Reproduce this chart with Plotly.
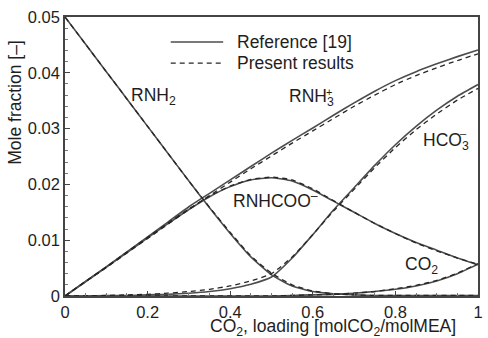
import plotly.graph_objects as go

# ---------------- data ----------------
loading = [0, 0.05, 0.1, 0.15, 0.2, 0.25, 0.3, 0.35, 0.4, 0.45, 0.5,
           0.55, 0.6, 0.65, 0.7, 0.75, 0.8, 0.85, 0.9, 0.95, 1.0]

# Reference [19] (solid)
ref_rnh2 = [0.0500, 0.0451, 0.0402, 0.0353, 0.0304, 0.0255, 0.0206, 0.0158, 0.0112, 0.0070, 0.0038,
            0.0018, 0.0008, 0.0004, 0.0002, 0.0001, 0.0001, 0.0001, 0.0001, 0.0001, 0.0001]
ref_rnh3 = [0.0, 0.0026, 0.0052, 0.0079, 0.0106, 0.0133, 0.0160, 0.0184, 0.0208, 0.0232, 0.0256,
            0.0279, 0.0301, 0.0324, 0.0346, 0.0367, 0.0386, 0.0402, 0.0416, 0.0429, 0.0441]
ref_carb = [0.0, 0.0026, 0.0052, 0.0078, 0.0104, 0.0130, 0.0155, 0.0178, 0.0196, 0.0208, 0.0212,
            0.0206, 0.0190, 0.0170, 0.0150, 0.0130, 0.0112, 0.0096, 0.0082, 0.0068, 0.0056]
ref_hco3 = [0.0, 0.0, 0.0001, 0.0001, 0.0002, 0.0003, 0.0005, 0.0008, 0.0013, 0.0021, 0.0034,
            0.0068, 0.0110, 0.0154, 0.0194, 0.0234, 0.0271, 0.0304, 0.0333, 0.0358, 0.0379]
ref_co2 = [0.0, 0.0, 0.0, 0.0, 0.0, 0.0, 0.0, 0.0, 0.0, 0.0, 0.0,
           0.0001, 0.0002, 0.0003, 0.0005, 0.0008, 0.0012, 0.0018, 0.0027, 0.0040, 0.0057]

# Present results (dashed)
pre_rnh2 = [0.0500, 0.0451, 0.0402, 0.0353, 0.0304, 0.0255, 0.0206, 0.0159, 0.0114, 0.0072, 0.0041,
            0.0020, 0.0009, 0.0004, 0.0002, 0.0001, 0.0001, 0.0001, 0.0001, 0.0001, 0.0001]
pre_rnh3 = [0.0, 0.0026, 0.0051, 0.0077, 0.0103, 0.0129, 0.0155, 0.0180, 0.0204, 0.0228, 0.0251,
            0.0274, 0.0296, 0.0318, 0.0340, 0.0360, 0.0379, 0.0395, 0.0409, 0.0422, 0.0434]
pre_carb = [0.0, 0.0026, 0.0052, 0.0079, 0.0105, 0.0131, 0.0156, 0.0179, 0.0197, 0.0209, 0.0213,
            0.0208, 0.0192, 0.0171, 0.0150, 0.0130, 0.0112, 0.0095, 0.0081, 0.0068, 0.0057]
pre_hco3 = [0.0, 0.0, 0.0001, 0.0002, 0.0003, 0.0005, 0.0008, 0.0012, 0.0018, 0.0027, 0.0040,
            0.0070, 0.0110, 0.0152, 0.0191, 0.0230, 0.0266, 0.0298, 0.0326, 0.0351, 0.0372]
pre_co2 = [0.0, 0.0, 0.0, 0.0, 0.0, 0.0, 0.0, 0.0, 0.0, 0.0, 0.0,
           0.0001, 0.0002, 0.0003, 0.0005, 0.0008, 0.0013, 0.0019, 0.0028, 0.0041, 0.0058]

x_ticks = [0, 0.2, 0.4, 0.6, 0.8, 1]
y_ticks = [0, 0.01, 0.02, 0.03, 0.04, 0.05]

# ---------------- figure ----------------
FONT = "Liberation Sans, Arial, sans-serif"
SOLID_C = "#4d4d4d"
DASH_C = "#262626"
TXT_C = "#1e1e1e"

fig = go.Figure()
for ys in [ref_rnh2, ref_rnh3, ref_carb, ref_hco3, ref_co2]:
    fig.add_trace(go.Scatter(x=loading, y=ys, mode="lines", showlegend=False,
                             line=dict(color=SOLID_C, width=1.6, shape="spline", smoothing=0.5)))
for ys in [pre_rnh2, pre_rnh3, pre_carb, pre_hco3, pre_co2]:
    fig.add_trace(go.Scatter(x=loading, y=ys, mode="lines", showlegend=False,
                             line=dict(color=DASH_C, width=1.3, dash="5px,4px",
                                       shape="spline", smoothing=0.5)))

axis_common = dict(showline=True, linecolor="#444444", linewidth=1.6, mirror=True,
                   ticks="inside", ticklen=5, tickwidth=1, tickcolor="#444444",
                   showgrid=False, zeroline=False,
                   tickfont=dict(family=FONT, size=16.5, color=TXT_C))

fig.update_xaxes(range=[0, 1], tickvals=x_ticks, ticktext=[f"{v:g}" for v in x_ticks],
                 minor=dict(ticks="inside", ticklen=3, dtick=0.05, tickcolor="#777777"),
                 **axis_common)
fig.update_yaxes(range=[0, 0.05], tickvals=y_ticks, ticktext=[f"{v:g}" for v in y_ticks],
                 minor=dict(ticks="inside", ticklen=3, dtick=0.002, tickcolor="#777777"),
                 **axis_common)

tf = dict(family=FONT, size=17.5, color=TXT_C)
small = dict(family=FONT, size=11, color=TXT_C)
ann = []
# axis titles
ann.append(dict(text="CO<sub>2</sub>, loading [molCO<sub>2</sub>/molMEA]", xref="x domain", yref="y domain",
                x=0.650, y=-0.112, xanchor="center", yanchor="middle", showarrow=False, font=tf))
ann.append(dict(text="Mole fraction [–]", xref="x domain", yref="y domain", textangle=-90,
                x=-0.122, y=0.695, xanchor="center", yanchor="middle", showarrow=False, font=tf))
# legend texts
ann.append(dict(text="Reference [19]", xref="x domain", yref="y domain", x=0.411, y=0.910,
                xanchor="left", yanchor="middle", showarrow=False, font=tf))
ann.append(dict(text="Present results", xref="x domain", yref="y domain", x=0.411, y=0.835,
                xanchor="left", yanchor="middle", showarrow=False, font=tf))
# species labels
ann.append(dict(text="RNH<sub>2</sub>", x=0.156, y=0.0358, xanchor="left", yanchor="middle",
                showarrow=False, font=tf))
ann.append(dict(text="RNH<sub>3</sub>", x=0.538, y=0.0356, xanchor="left", yanchor="middle",
                showarrow=False, font=tf))
ann.append(dict(text="+", x=0.640, y=0.0366, xanchor="center", yanchor="middle",
                showarrow=False, font=small))
ann.append(dict(text="HCO<sub>3</sub>", x=0.861, y=0.0276, xanchor="left", yanchor="middle",
                showarrow=False, font=tf))
ann.append(dict(text="–", x=0.965, y=0.0292, xanchor="center", yanchor="middle",
                showarrow=False, font=small))
ann.append(dict(text="RNHCOO<sup>–</sup>", x=0.402, y=0.0172, xanchor="left", yanchor="middle",
                showarrow=False, font=tf))
ann.append(dict(text="CO<sub>2</sub>", x=0.818, y=0.0054, xanchor="left", yanchor="middle",
                showarrow=False, font=tf))

shapes = [
    dict(type="line", xref="x domain", yref="y domain", x0=0.256, x1=0.383, y0=0.910, y1=0.910,
         line=dict(color=SOLID_C, width=1.5)),
    dict(type="line", xref="x domain", yref="y domain", x0=0.256, x1=0.383, y0=0.835, y1=0.835,
         line=dict(color=DASH_C, width=1.3, dash="5px,4px")),
]

fig.update_layout(width=488, height=338, margin=dict(l=65, r=5, t=17, b=42),
                  paper_bgcolor="white", plot_bgcolor="white",
                  annotations=ann, shapes=shapes, showlegend=False,
                  font=dict(family=FONT, size=17, color=TXT_C))

fig.write_html("out.html")
